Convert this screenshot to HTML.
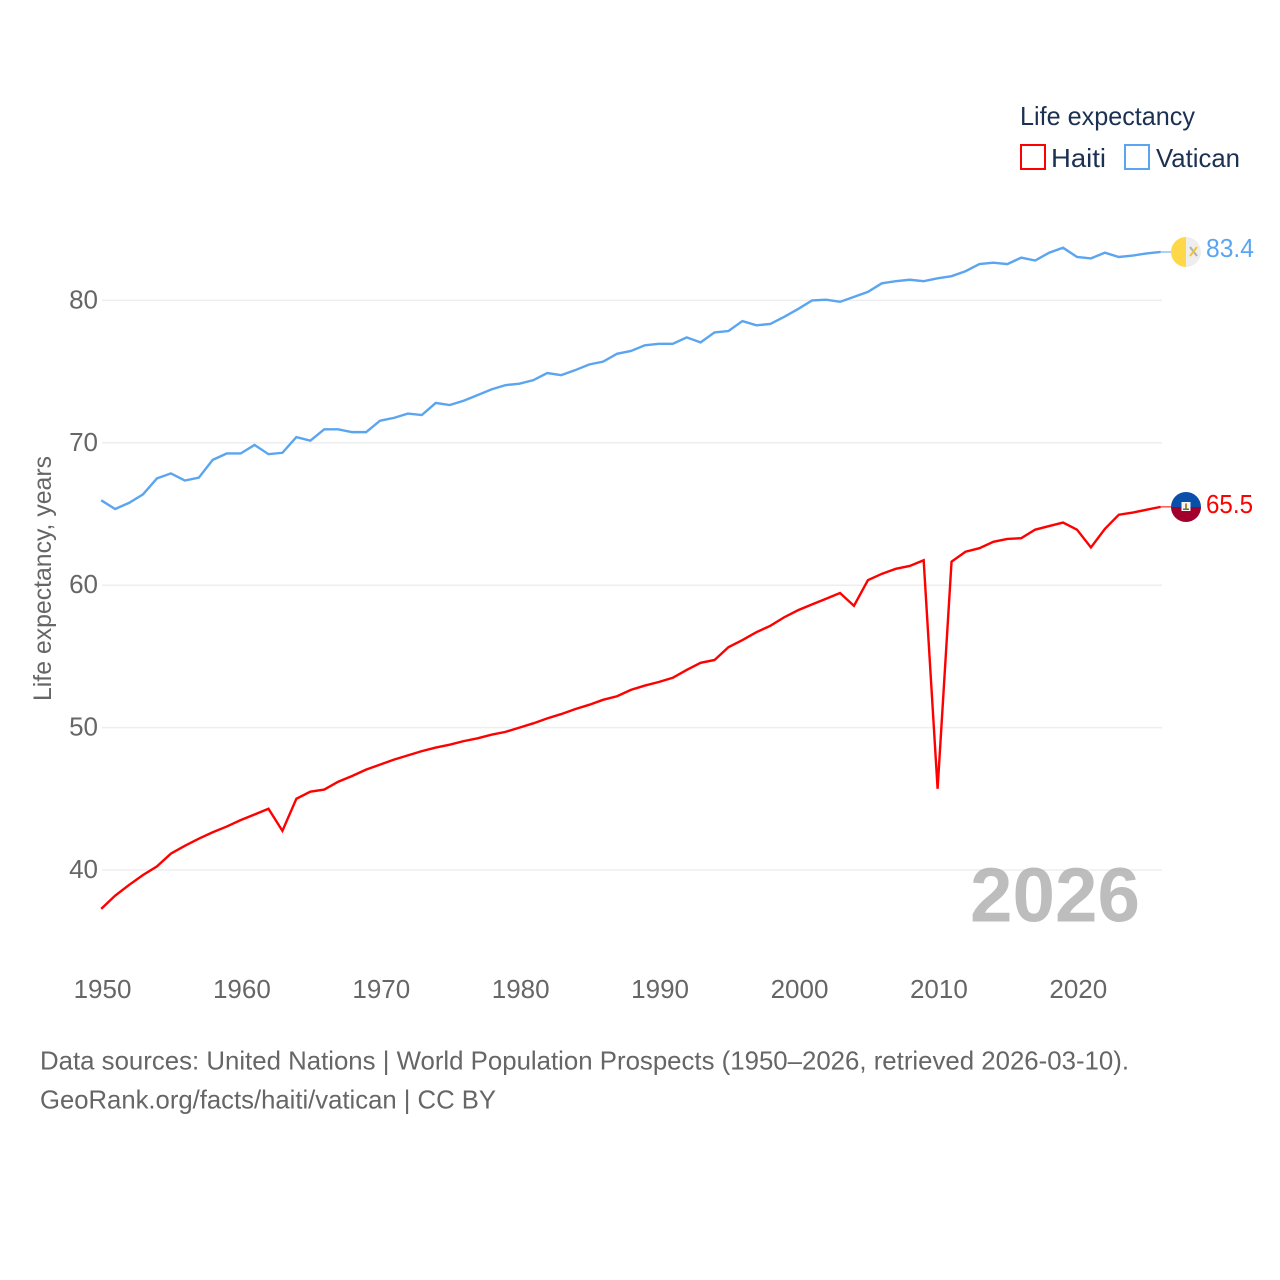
<!DOCTYPE html>
<html lang="en">
<head>
<meta charset="utf-8">
<title>Life expectancy: Haiti and Vatican</title>
<style>
html,body{margin:0;padding:0;background:#fff;width:1280px;height:1280px;overflow:hidden}
svg{display:block;font-family:"Liberation Sans",sans-serif}
</style>
</head>
<body>
<svg id="chart" xmlns="http://www.w3.org/2000/svg" width="1280" height="1280" viewBox="0 0 1280 1280">
  <defs>
    <clipPath id="flag-clip-vatican"><circle cx="1186" cy="252" r="15"/></clipPath>
    <clipPath id="flag-clip-haiti"><circle cx="1186" cy="507" r="15"/></clipPath>
  </defs>
  <rect width="1280" height="1280" fill="#fff"/>
  <g id="grid"></g>
  <text x="970" y="921.5" font-size="77" font-weight="700" fill="#a3a3a3" fill-opacity="0.72" textLength="170" lengthAdjust="spacingAndGlyphs">2026</text>
  <g id="y-ticks"></g>
  <g id="x-ticks"></g>
  <text transform="translate(51,701) rotate(-90)" font-size="25" fill="#666" textLength="245" lengthAdjust="spacingAndGlyphs">Life expectancy, years</text>
  <g id="series"></g>

  <g clip-path="url(#flag-clip-vatican)">
    <rect x="1171" y="237" width="15" height="30" fill="#ffd84a"/>
    <rect x="1186" y="237" width="15" height="30" fill="#eeeeee"/>
    <path d="M1190 247l7 9" stroke="#b0b0b0" stroke-width="2" fill="none"/>
    <path d="M1197 247l-7 9" stroke="#f2c52e" stroke-width="2" fill="none"/>
  </g>
  <g clip-path="url(#flag-clip-haiti)">
    <rect x="1171" y="492" width="30" height="15" fill="#0a4fa8"/>
    <rect x="1171" y="507" width="30" height="15" fill="#a2002c"/>
    <rect x="1181.5" y="502" width="9" height="9" fill="#f4f4f4"/>
    <rect x="1185" y="503.5" width="2" height="5" fill="#b08a2e"/>
    <rect x="1183" y="508.5" width="6" height="1.5" fill="#4a7a4a"/>
  </g>
  <text x="1206" y="257" font-size="26" fill="#5ba5f0" textLength="48" lengthAdjust="spacingAndGlyphs">83.4</text>
  <text x="1206" y="513" font-size="26" fill="#ff0000" textLength="47" lengthAdjust="spacingAndGlyphs">65.5</text>

  <g>
    <text x="1020" y="125" font-size="26" fill="#1b3152" textLength="175" lengthAdjust="spacingAndGlyphs">Life expectancy</text>
    <rect x="1021" y="145" width="24" height="24" fill="none" stroke="#ff0000" stroke-width="2"/>
    <text x="1051" y="167" font-size="26" fill="#1b3152" textLength="55" lengthAdjust="spacingAndGlyphs">Haiti</text>
    <rect x="1125" y="145" width="24" height="24" fill="none" stroke="#5ba5f0" stroke-width="2"/>
    <text x="1156" y="167" font-size="26" fill="#1b3152" textLength="84" lengthAdjust="spacingAndGlyphs">Vatican</text>
  </g>

  <text x="40" y="1069.5" font-size="26" fill="#666" textLength="1089" lengthAdjust="spacingAndGlyphs">Data sources: United Nations | World Population Prospects (1950–2026, retrieved 2026-03-10).</text>
  <text x="40" y="1108.5" font-size="26" fill="#666" textLength="456" lengthAdjust="spacingAndGlyphs">GeoRank.org/facts/haiti/vatican | CC BY</text>
</svg>
<script>
const startYear = 1950;
const yTickValues = [40, 50, 60, 70, 80];
const xTickYears = [1950, 1960, 1970, 1980, 1990, 2000, 2010, 2020];
const haitiValues = [
  37.27, 38.2, 38.95, 39.65, 40.25, 41.15, 41.7, 42.2, 42.65, 43.05,
  43.5, 43.9, 44.3, 42.75, 45.0, 45.5, 45.65, 46.2, 46.6, 47.05,
  47.4, 47.75, 48.05, 48.35, 48.6, 48.8, 49.05, 49.25, 49.5, 49.7,
  50.0, 50.3, 50.65, 50.95, 51.3, 51.6, 51.95, 52.2, 52.65, 52.95,
  53.2, 53.5, 54.05, 54.55, 54.75, 55.65, 56.15, 56.7, 57.15, 57.75,
  58.25, 58.65, 59.05, 59.45, 58.55, 60.35, 60.8, 61.15, 61.35, 61.75,
  45.7, 61.65, 62.35, 62.6, 63.05, 63.25, 63.3, 63.9, 64.15, 64.4,
  63.9, 62.65, 63.95, 64.95, 65.1, 65.3, 65.5
];
const vaticanValues = [
  65.96, 65.35, 65.78, 66.38, 67.5, 67.85, 67.35, 67.55, 68.8, 69.25,
  69.25, 69.85, 69.2, 69.3, 70.4, 70.15, 70.95, 70.95, 70.75, 70.75,
  71.55, 71.75, 72.05, 71.95, 72.8, 72.65, 72.95, 73.35, 73.75, 74.05,
  74.15, 74.4, 74.9, 74.75, 75.1, 75.5, 75.7, 76.25, 76.45, 76.85,
  76.95, 76.95, 77.4, 77.05, 77.75, 77.85, 78.55, 78.25, 78.35, 78.85,
  79.4, 80.0, 80.05, 79.9, 80.25, 80.6, 81.2, 81.35, 81.45, 81.35,
  81.55, 81.7, 82.05, 82.55, 82.65, 82.55, 83.0, 82.8, 83.35, 83.7,
  83.05, 82.95, 83.35, 83.05, 83.15, 83.3, 83.4
];

const NS = 'http://www.w3.org/2000/svg';
function xScale(year) { return 101.2 + (year - 1950) * 13.94; }
function yScale(value) { return 870 - (value - 40) * 14.24; }

const gridGroup = document.getElementById('grid');
const yTickGroup = document.getElementById('y-ticks');
const xTickGroup = document.getElementById('x-ticks');
const seriesGroup = document.getElementById('series');

yTickValues.forEach(function (value) {
  const line = document.createElementNS(NS, 'line');
  
  
  line.setAttribute('x1', 102);
  line.setAttribute('x2', 1162);
  line.setAttribute('y1', yScale(value));
  line.setAttribute('y2', yScale(value));
  line.setAttribute('stroke', '#eeeeee');
  line.setAttribute('stroke-width', '1.5');
  gridGroup.appendChild(line);

  const label = document.createElementNS(NS, 'text');
  
  
  label.setAttribute('x', 98);
  label.setAttribute('y', yScale(value) + 8);
  label.setAttribute('text-anchor', 'end');
  label.setAttribute('font-size', '26');
  label.setAttribute('fill', '#666');
  label.textContent = value;
  yTickGroup.appendChild(label);
});

xTickYears.forEach(function (year) {
  const label = document.createElementNS(NS, 'text');
  
  
  label.setAttribute('x', xScale(year) + 1.3);
  label.setAttribute('y', 998);
  label.setAttribute('text-anchor', 'middle');
  label.setAttribute('font-size', '26');
  label.setAttribute('fill', '#666');
  label.textContent = year;
  xTickGroup.appendChild(label);
});

function drawSeries(values, color, name) {
  const points = values.map(function (v, i) {
    return xScale(startYear + i).toFixed(2) + ',' + yScale(v).toFixed(2);
  }).join(' ');
  const line = document.createElementNS(NS, 'polyline');
  
  
  line.setAttribute('points', points);
  line.setAttribute('fill', 'none');
  line.setAttribute('stroke', color);
  line.setAttribute('stroke-width', '2.4');
  line.setAttribute('stroke-linejoin', 'miter');
  seriesGroup.appendChild(line);

  const lastY = yScale(values[values.length - 1]);
  const leader = document.createElementNS(NS, 'line');
  
  
  leader.setAttribute('x1', xScale(startYear + values.length - 1));
  leader.setAttribute('x2', 1172);
  leader.setAttribute('y1', lastY);
  leader.setAttribute('y2', lastY);
  leader.setAttribute('stroke', color);
  leader.setAttribute('stroke-width', '1');
  seriesGroup.appendChild(leader);
}
drawSeries(haitiValues, '#ff0000', 'haiti');
drawSeries(vaticanValues, '#5ba5f0', 'vatican');
</script>
</body>
</html>
